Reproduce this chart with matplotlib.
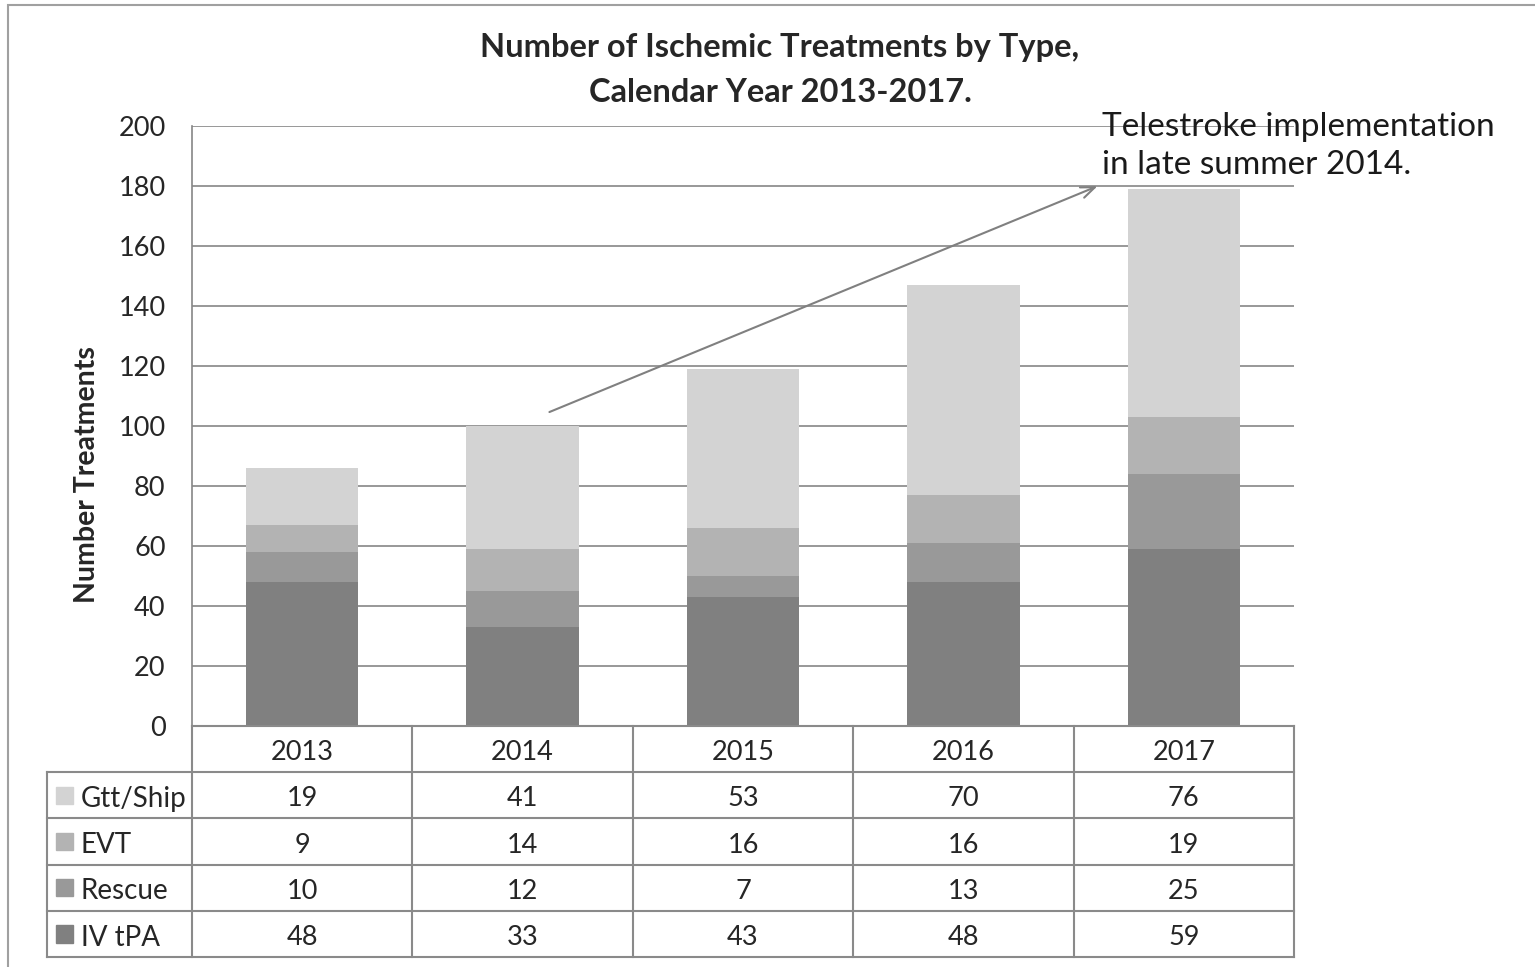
import matplotlib
matplotlib.use("Agg")
import matplotlib.pyplot as plt
from matplotlib.patches import Rectangle
import numpy as np

plt.rcParams['font.family'] = ['Lato', 'DejaVu Sans']

years = ['2013', '2014', '2015', '2016', '2017']
series_names = ['Gtt/Ship', 'EVT', 'Rescue', 'IV tPA']
iv_tpa = [48, 33, 43, 48, 59]
rescue = [10, 12, 7, 13, 25]
evt = [9, 14, 16, 16, 19]
gtt_ship = [19, 41, 53, 70, 76]
yticks = [0, 20, 40, 60, 80, 100, 120, 140, 160, 180, 200]

colors = {'IV tPA': '#808080', 'Rescue': '#999999', 'EVT': '#b3b3b3', 'Gtt/Ship': '#d3d3d3'}
values = {'Gtt/Ship': gtt_ship, 'EVT': evt, 'Rescue': rescue, 'IV tPA': iv_tpa}

W, H = 1535, 967
fig = plt.figure(figsize=(W / 100, H / 100), dpi=100)
txtc = '#262626'
gridc = '#868686'
fs = 19.5

def px_axes(x0, y0, x1, y1):
    return fig.add_axes([x0 / W, 1 - y1 / H, (x1 - x0) / W, (y1 - y0) / H])

# outer border
fig.add_artist(Rectangle((8 / W, -0.1), 2, 1 - 5 / H + 0.1, transform=fig.transFigure,
                         fill=False, edgecolor='#a0a0a0', lw=1.5))

ax = px_axes(192, 126, 1294, 726)
x = np.arange(len(years))
bottom = np.zeros(len(years))
for name in ['IV tPA', 'Rescue', 'EVT', 'Gtt/Ship']:
    v = np.array(values[name])
    ax.bar(x, v, bottom=bottom, width=0.51, color=colors[name], zorder=3, label=name)
    bottom += v
ax.set_xlim(-0.5, len(years) - 0.5)
ax.set_ylim(0, 200)
ax.set_yticks(yticks)
ax.set_yticklabels([str(t) for t in yticks], fontsize=fs, color=txtc)
ax.tick_params(axis='y', length=0, pad=19)
ax.tick_params(axis='x', length=0, labelbottom=False)
ax.yaxis.grid(True, color=gridc, lw=1.2, zorder=0)
for s in ['top', 'right', 'bottom']:
    ax.spines[s].set_visible(False)
ax.spines['left'].set_color(gridc)
ax.spines['left'].set_linewidth(1.2)
ax.set_ylabel('Number Treatments', fontsize=20.5, fontweight='bold', color=txtc)
ax.yaxis.set_label_coords((100 - 192) / (1294 - 192), (726 - 475) / 600)

fig.text(780 / W, 1 - 48 / H, 'Number of Ischemic Treatments by Type,', fontsize=23.5,
         fontweight='bold', color=txtc, ha='center', va='center')
fig.text(780 / W, 1 - 93 / H, 'Calendar Year 2013-2017.', fontsize=23.5,
         fontweight='bold', color=txtc, ha='center', va='center')

# annotation arrow
ax.annotate('', xy=(3.62, 180.3), xytext=(1.11, 104.3),
            arrowprops=dict(arrowstyle='->,head_length=1.0,head_width=0.4', color='#808080', lw=1.5),
            zorder=5, annotation_clip=False)
ax.text(3.63, 204.5, 'Telestroke implementation\nin late summer 2014.', fontsize=24, color='#1a1a1a',
        ha='left', va='top', linespacing=1.3, zorder=6, clip_on=False)

# data table
unit = (1294 - 192) / len(years)
left_units = (192 - 47) / unit
tab = px_axes(47, 726, 1294, 957)
tab.set_xlim(-0.5 - left_units, len(years) - 0.5)
nrows = len(series_names) + 1
tab.set_ylim(0, nrows)
tab.axis('off')
lc = '#8a8a8a'
lw = 1.5
xl = -0.5 - left_units
tab.plot([-0.5, len(years) - 0.5], [nrows, nrows], color=lc, lw=lw, clip_on=False)
for r in range(nrows - 1, -1, -1):
    tab.plot([xl, len(years) - 0.5], [r, r], color=lc, lw=lw, clip_on=False)
for c in range(len(years) + 1):
    tab.plot([c - 0.5, c - 0.5], [0, nrows], color=lc, lw=lw, clip_on=False)
tab.plot([xl, xl], [0, nrows - 1], color=lc, lw=lw, clip_on=False)

dy = 0.08
for i, yr in enumerate(years):
    tab.text(i, nrows - 0.5 - dy, yr, ha='center', va='center', fontsize=fs, color=txtc)
for r, name in enumerate(series_names):
    yc = nrows - 1.5 - r
    sq_w = 17 / unit
    tab.add_patch(Rectangle((xl + 9 / unit, yc - 0.19), sq_w, 0.38, color=colors[name]))
    tab.text(xl + 34 / unit, yc - dy, name, ha='left', va='center', fontsize=fs + 0.5, color=txtc)
    for i in range(len(years)):
        tab.text(i, yc - dy, str(values[name][i]), ha='center', va='center', fontsize=fs, color=txtc)

fig.savefig('out.png', dpi=100, facecolor='white')
